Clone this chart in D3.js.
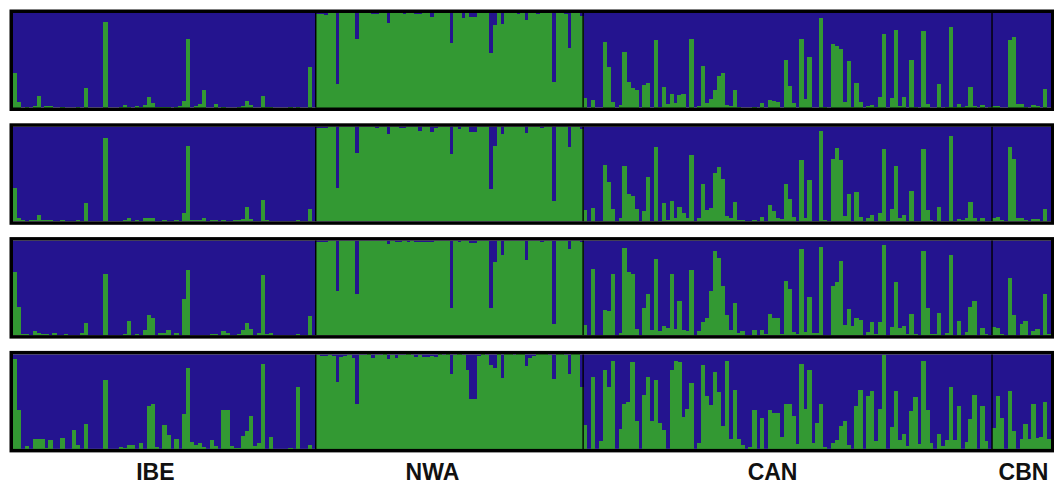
<!DOCTYPE html>
<html>
<head>
<meta charset="utf-8">
<script src="https://cdn.jsdelivr.net/npm/d3@7"></script>
<style>
  html, body { margin: 0; padding: 0; background: #fff; }
  svg { display: block; }
</style>
</head>
<body>
<div id="chart-area"></div>
<script>
const W = 1054, H = 483
const PLOT = { LEFT: 13, RIGHT: 1051, TOP: 13, PANEL_H: 94.5, STEP: 113.8 }
const BLUE = "#24148f", GREEN = "#339933"

// populations, in plot order, and how many individuals each has
const pops = ["IBE", "NWA", "CAN", "CBN"]
const popSizes = [77, 68, 104, 15]
// small nudge of each label from the middle of its group (px)
const labelShift = [-9, -17, -15, 2]

// green membership (%) of each individual, one array per run (top to bottom)
const run1 = [
  36,6,0,1,0,2,12,0,2,2, 0,0,1,0,0,0,1,0,21,0, 0,0,0,91,0,0,0,1,3,1, 0,2,1,3,11,5,1,1,1,1,
  0,1,2,7,73,0,2,4,18,0, 0,4,0,1,0,0,0,1,2,7, 3,0,0,12,1,1,0,0,0,0, 1,0,1,0,0,43,0,
  99,99,98,100,100,25,100,100,100,100, 73,100,100,100,99,99,100,100,89,100, 100,100,99,100,100,99,99,100,100,96,
  100,100,100,100,68,100,100,95,100,96, 96,100,100,100,58,87,100,88,100,100, 100,99,100,93,100,100,99,100,100,100,
  27,100,100,99,63,100,100,97,
  10,0,8,0,0,69,43,6,0,3, 59,27,21,18,0,24,26,0,71,1, 22,4,14,5,13,14,0,72,0,2, 44,5,9,19,33,36,3,2,19,1,
  0,0,0,1,0,5,0,8,7,6, 0,50,23,5,0,73,9,53,0,0, 95,1,0,67,65,62,6,49,1,26, 6,0,2,3,1,11,78,0,10,82,
  2,11,0,50,1,0,81,4,0,0, 25,0,1,85,1,4,1,2,22,2, 0,3,0,1,
  2,2,0,0,71,75,4,4,1,0,3,2,0,20,0
]
const run2 = [
  35,4,1,0,1,1,7,1,1,1, 0,0,1,0,0,0,1,0,19,0, 0,0,0,88,0,0,0,0,1,4, 0,1,0,4,4,4,0,0,1,0,
  0,1,0,9,80,1,1,1,3,0, 1,1,0,1,0,0,1,1,2,15, 2,0,0,23,1,0,0,0,0,0, 0,0,1,0,0,13,0,
  99,99,99,100,100,35,100,100,100,100, 72,100,100,100,100,99,100,100,92,100, 100,99,99,100,100,100,96,100,100,95,
  99,100,100,100,71,100,98,100,100,95, 95,100,100,100,34,80,100,92,100,100, 100,100,100,93,100,100,100,99,100,100,
  22,100,100,100,79,100,100,98,
  12,0,14,0,0,60,42,13,0,4, 59,29,27,13,0,11,47,0,79,0, 19,1,22,4,15,9,4,70,0,3, 39,12,14,51,57,45,6,4,20,1,
  1,0,0,1,0,5,0,17,11,4, 2,39,24,5,0,65,4,44,0,0, 96,1,0,66,78,65,6,29,0,31, 5,0,3,7,0,9,76,0,13,58,
  3,7,0,32,0,0,77,12,1,0, 15,0,0,90,0,2,1,3,20,3, 0,4,0,0,
  4,5,1,0,79,66,3,3,1,0,2,2,0,13,0
]
const run3 = [
  67,30,1,1,0,4,2,1,1,0, 2,0,0,1,0,0,0,2,13,0, 0,0,0,65,0,0,0,0,1,15, 0,1,0,5,21,18,0,2,2,5,
  0,2,0,38,69,0,0,0,0,0, 1,1,0,4,2,0,0,1,5,13, 6,0,2,64,1,2,0,0,0,0, 0,0,1,0,0,20,0,
  99,99,99,100,100,47,100,100,100,100, 43,100,100,100,100,100,100,100,96,100, 99,99,100,99,100,99,99,98,98,99,
  100,100,100,100,29,100,99,100,100,97, 97,100,100,100,29,77,100,85,100,100, 100,100,100,80,100,100,100,99,100,100,
  12,100,100,100,91,100,100,99,
  11,0,70,0,0,27,25,65,0,2, 92,67,65,6,0,29,43,5,81,4, 10,7,65,6,36,5,4,69,0,4, 14,18,47,89,82,52,21,5,34,2,
  4,0,0,5,0,5,1,22,18,18, 1,57,49,3,1,91,3,40,2,2, 93,0,0,52,56,78,11,28,10,18, 16,0,3,14,1,14,95,0,9,56,
  8,10,1,22,1,0,89,29,1,1, 23,0,2,85,0,15,0,3,30,36, 0,7,1,0,
  9,7,1,0,60,21,0,12,15,0,4,6,0,43,1
]
const run4 = [
  95,41,0,3,0,11,11,11,1,9, 0,0,12,0,0,20,4,0,26,0, 0,0,0,73,0,0,0,2,1,4, 4,0,6,0,45,48,2,0,25,15,
  0,11,0,37,86,7,4,6,2,0, 9,3,0,41,41,3,1,1,14,19, 35,3,6,90,0,13,0,0,0,0, 1,0,66,0,0,4,0,
  99,98,98,99,98,71,97,98,99,96, 47,99,99,100,96,99,99,100,95,99, 96,99,99,100,99,97,99,97,97,98,
  97,100,99,100,79,99,100,99,84,53, 53,98,100,99,89,86,100,75,100,100, 99,100,100,88,96,98,100,100,100,99,
  74,100,100,99,79,100,100,66,
  25,0,76,0,8,84,65,93,0,21, 48,50,92,29,0,57,76,29,73,27, 20,0,83,93,92,34,42,70,0,6, 89,56,46,81,60,24,93,10,62,11,
  4,0,2,41,0,33,0,41,38,38, 13,47,47,35,5,90,42,83,6,27, 47,2,0,6,9,24,29,4,0,45, 62,0,56,61,8,42,99,0,23,61,
  9,16,3,40,55,5,93,41,6,0, 16,3,9,66,9,45,0,7,32,57, 0,45,8,0,
  22,56,33,0,61,19,0,11,26,11,48,12,13,50,11
]
const runs = [run1, run2, run3, run4]

const N = d3.sum(popSizes)
const starts = popSizes.map((d, i) => d3.sum(popSizes.slice(0, i)))

const x = d3.scaleBand()
  .domain(d3.range(N))
  .range([PLOT.LEFT, PLOT.RIGHT])
  .padding(0)

const svg = d3.select("#chart-area").append("svg")
  .attr("width", W)
  .attr("height", H)

runs.forEach((vals, r) => {
  const top = PLOT.TOP + r * PLOT.STEP
  const y = d3.scaleLinear().domain([0, 100]).range([top + PLOT.PANEL_H, top])

  const g = svg.append("g")

  g.append("rect")
    .attr("x", PLOT.LEFT)
    .attr("y", top)
    .attr("width", PLOT.RIGHT - PLOT.LEFT)
    .attr("height", PLOT.PANEL_H)
    .attr("fill", BLUE)

  g.append("g")
      .attr("fill", GREEN)
      .attr("shape-rendering", "crispEdges")
    .selectAll("rect")
    .data(vals)
    .join("rect")
      .attr("x", (d, i) => x(i))
      .attr("width", x.bandwidth() + 0.4)
      .attr("y", d => y(d))
      .attr("height", d => y(0) - y(d))

  // population separators
  g.selectAll("line")
    .data(starts.slice(1))
    .join("line")
      .attr("x1", d => x(d))
      .attr("x2", d => x(d))
      .attr("y1", top)
      .attr("y2", top + PLOT.PANEL_H)
      .attr("stroke", "#000")
      .attr("stroke-width", 1.4)

  g.append("rect")
    .attr("x", PLOT.LEFT - 1.75)
    .attr("y", top - 1.75)
    .attr("width", PLOT.RIGHT - PLOT.LEFT + 3.5)
    .attr("height", PLOT.PANEL_H + 3.5)
    .attr("fill", "none")
    .attr("stroke", "#000")
    .attr("stroke-width", 3.5)
})

svg.append("g")
  .selectAll("text")
  .data(pops)
  .join("text")
    .attr("x", (d, i) => x(starts[i]) + popSizes[i] * x.bandwidth() / 2 + labelShift[i])
    .attr("y", 479.5)
    .attr("text-anchor", "middle")
    .attr("font-family", "'Liberation Sans', Arial, sans-serif")
    .attr("font-weight", "bold")
    .attr("font-size", 23)
    .attr("fill", "#111")
    .text(d => d)
</script>
</body>
</html>
